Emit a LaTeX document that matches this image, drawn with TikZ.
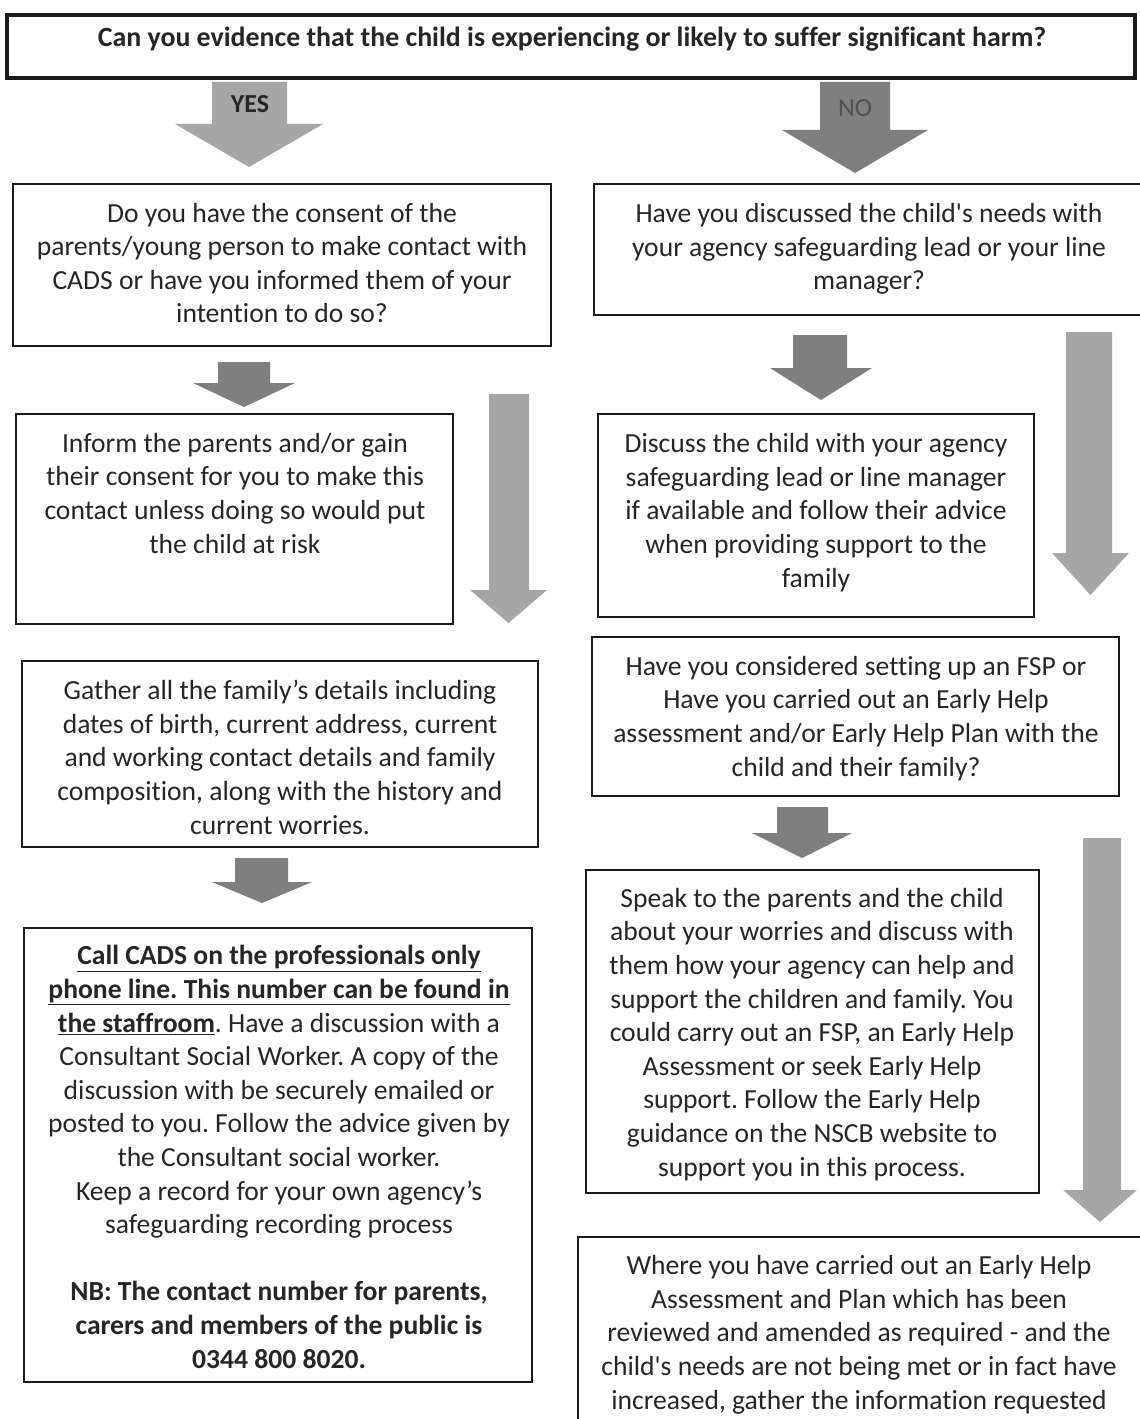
\documentclass[tikz,border=0pt]{standalone}
\usepackage{fontspec}
\setmainfont{Carlito}[Ligatures=TeXOff, RawFeature={-liga;-clig;-dlig;-calt}]
\frenchspacing
\definecolor{arrowlight}{HTML}{A6A6A6}
\definecolor{arrowdark}{HTML}{7F7F7F}
\definecolor{ink}{HTML}{262626}
\definecolor{edge}{HTML}{1A1A1A}
\tikzset{
  box/.style={draw=edge, line width=1.9pt, inner sep=0pt, fill=white},
  topbox/.style={draw=edge, line width=2.6pt, inner sep=0pt, fill=white},
  txt/.style={text=ink, align=center, inner sep=0pt, anchor=base,
    font=\fontsize{20.7}{25.2}\selectfont},
  lightarrow/.style={fill=arrowlight},
  darkarrow/.style={fill=arrowdark},
}
% #1 style, #2 shaft left, #3 shaft right, #4 shaft top, #5 head base, #6 head left, #7 head right, #8 tip y
\newcommand\blkarrow[8]{%
  \fill[#1] (#2,#4) -- (#3,#4) -- (#3,#5) -- (#7,#5) -- ({(#6+#7)/2},#8) -- (#6,#5) -- (#2,#5) -- cycle;}
% #1 name, #2 x1, #3 y1, #4 x2, #5 y2, #6 style
\newcommand\pbox[6]{%
  \node[#6, minimum width={(#4-#2)*0.75pt}, minimum height={(#5-#3)*0.75pt}] (#1) at ({(#2+#4)/2},{(#3+#5)/2}) {};}
\begin{document}
\begin{tikzpicture}[x=0.75pt, y=-0.75pt]
\useasboundingbox (0,0) rectangle (1139,1419);
\fill[white] (0,0) rectangle (1139,1419);

% arrows
\blkarrow{lightarrow}{212}{287}{82}{124}{175}{323}{167}
\blkarrow{darkarrow}{820}{890}{82}{130}{782}{928}{173}
\blkarrow{darkarrow}{218}{270}{362}{383}{193}{295}{407}
\blkarrow{lightarrow}{489}{529}{394}{590}{470}{547}{623}
\blkarrow{darkarrow}{793}{847}{335}{368}{770}{872}{400}
\blkarrow{lightarrow}{1066}{1112}{332}{553}{1052}{1129}{595}
\blkarrow{darkarrow}{235}{288}{858}{882}{212}{312}{903}
\blkarrow{darkarrow}{777}{828}{807}{833}{752}{852}{858}
\blkarrow{lightarrow}{1083}{1121}{838}{1190}{1063}{1137}{1222}

\node[text=ink, font=\bfseries\fontsize{19.5}{22}\selectfont, inner sep=0pt] (yes) at (250,104) {YES};
\node[text=ink!80, font=\fontsize{19.5}{22}\selectfont, inner sep=0pt] (no) at (855,108) {NO};

% boxes
\pbox{top}{7}{15}{1135}{78}{topbox}
\pbox{l1}{13}{184}{551}{346}{box}
\pbox{r1}{594}{184}{1150}{315}{box}
\pbox{l2}{16}{414}{453}{624}{box}
\pbox{r2}{598}{414}{1034}{617}{box}
\pbox{r3}{592}{637}{1119}{796}{box}
\pbox{l3}{22}{661}{538}{847}{box}
\pbox{l4}{24}{928}{532}{1382}{box}
\pbox{r4}{586}{870}{1039}{1193}{box}
\pbox{r5}{578}{1237}{1150}{1440}{box}

% texts (anchored at the baseline of their last line)
\node[text=ink, inner sep=0pt, anchor=base, font=\bfseries\fontsize{20.9}{24}\selectfont] (ttop) at (572,47)
  {Can you evidence that the child is experiencing or likely to suffer significant harm?};

\node[txt] (tl1) at (282,323) {Do you have the consent of the\\parents/young person to make contact with\\CADS or have you informed them of your\\intention to do so?};

\node[txt] (tr1) at (869,290) {Have you discussed the child's needs with\\your agency safeguarding lead or your line\\manager?};

\node[txt] (tl2) at (235,553) {Inform the parents and/or gain\\their consent for you to make this\\contact unless doing so would put\\the child at risk};

\node[txt] (tr2) at (816,587) {Discuss the child with your agency\\safeguarding lead or line manager\\if available and follow their advice\\when providing support to the\\family};

\node[txt] (tr3) at (856,776) {Have you considered setting up an FSP or\\Have you carried out an Early Help\\assessment and/or Early Help Plan with the\\child and their family?};

\node[txt] (tl3) at (280,834) {Gather all the family’s details including\\dates of birth, current address, current\\and working contact details and family\\composition, along with the history and\\current worries.};

\node[txt] (tl4) at (279,1368) {\textbf{\underline{Call CADS on the professionals only}}\\\textbf{\underline{phone line. This number can be found in}}\\\textbf{\underline{the staffroom}}. Have a discussion with a\\Consultant Social Worker. A copy of the\\discussion with be securely emailed or\\posted to you. Follow the advice given by\\the Consultant social worker.\\Keep a record for your own agency’s\\safeguarding recording process\\[25.2pt]\textbf{NB: The contact number for parents,}\\\textbf{carers and members of the public is}\\\textbf{0344 800 8020.}};

\node[txt] (tr4) at (812,1176) {Speak to the parents and the child\\about your worries and discuss with\\them how your agency can help and\\support the children and family. You\\could carry out an FSP, an Early Help\\Assessment or seek Early Help\\support. Follow the Early Help\\guidance on the NSCB website to\\support you in this process.};

\node[txt] (tr5) at (859,1409) {Where you have carried out an Early Help\\Assessment and Plan which has been\\reviewed and amended as required - and the\\child's needs are not being met or in fact have\\increased, gather the information requested};
\end{tikzpicture}
\end{document}
